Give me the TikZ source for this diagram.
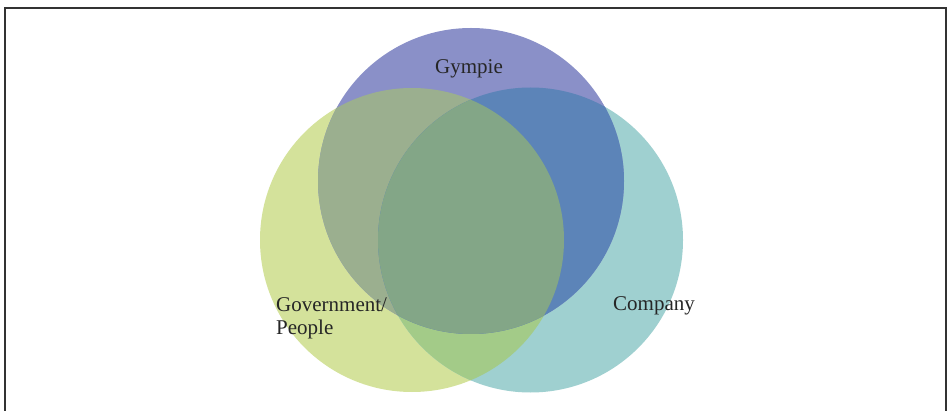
\documentclass[tikz,border=0pt]{standalone}
\usepackage{fontspec}
\setmainfont{Liberation Serif}
\usepackage{tikz}
\definecolor{gymblue}{HTML}{8A90C8}
\definecolor{govgreen}{HTML}{D4E29B}
\definecolor{comteal}{HTML}{9FD0D0}
\definecolor{gymgov}{HTML}{9BAF8F}
\definecolor{gymcom}{HTML}{5C84B8}
\definecolor{govcom}{HTML}{A3CB88}
\definecolor{allthree}{HTML}{83A687}

\begin{document}
\begin{tikzpicture}[x=1pt,y=1pt,
    label text/.style={font=\fontsize{21}{23}\selectfont, text=black!85, inner sep=0pt}]
       \useasboundingbox (0,0) rectangle (951,410);
       \clip (0,0) rectangle (951,410);

       % frame
       \draw[black!80, line width=2pt] (5,-10) -- (5,401.5) -- (946,401.5) -- (946,-10);

       % centres
       \coordinate (gym) at (471,229);
       \coordinate (gov) at (412,170);
       \coordinate (com) at (530.5,170);

       % single sets
       \fill[govgreen] (gov) circle (152);
       \fill[comteal] (com) circle (152.5);
       \fill[gymblue] (gym) circle (153);

       % overlaps
       \begin{scope}
         \clip (gov) circle (152);
         \fill[govcom] (com) circle (152.5);
       \end{scope}
       \begin{scope}
         \clip (gym) circle (153);
         \fill[gymgov] (gov) circle (152);
         \fill[gymcom] (com) circle (152.5);
         \clip (gov) circle (152);
         \fill[allthree] (com) circle (152.5);
       \end{scope}

       % labels
       \node[label text, anchor=base] (gymlabel) at (469,336) {Gympie};
       \node[label text, anchor=base west] (comlabel) at (613,99) {Company};
       \node[label text, anchor=base west, align=left] (govlabel) at (276,75) {Government/\\People};
      \end{tikzpicture}
\end{document}
